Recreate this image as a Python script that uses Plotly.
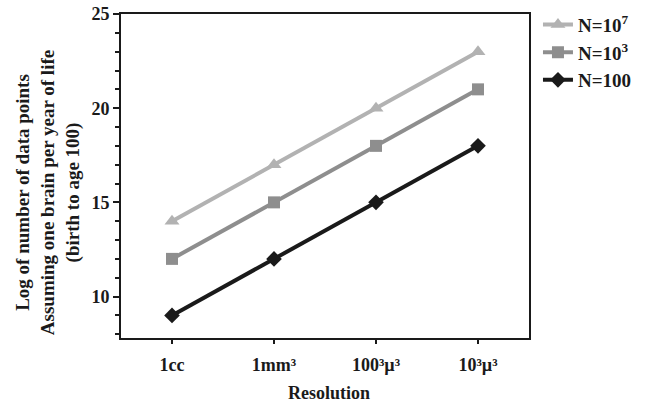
import plotly.graph_objects as go

categories = ["1cc", "1mm³", "100³µ³", "10³µ³"]
n1e7 = [14, 17, 20, 23]
n1e3 = [12, 15, 18, 21]
n100 = [9, 12, 15, 18]

font_family = "Liberation Serif, Times New Roman, serif"
ink = "#1a1a1a"

fig = go.Figure()
fig.add_trace(go.Scatter(x=categories, y=n1e7, mode="lines+markers", name="<b>N=10<sup>7</sup></b>",
                         line=dict(color="#b2b2b2", width=4),
                         marker=dict(symbol="triangle-up", size=13, color="#b2b2b2")))
fig.add_trace(go.Scatter(x=categories, y=n1e3, mode="lines+markers", name="<b>N=10<sup>3</sup></b>",
                         line=dict(color="#8e8e8e", width=4),
                         marker=dict(symbol="square", size=12, color="#8e8e8e")))
fig.add_trace(go.Scatter(x=categories, y=n100, mode="lines+markers", name="<b>N=100</b>",
                         line=dict(color=ink, width=4),
                         marker=dict(symbol="diamond", size=12, color=ink)))

fig.update_layout(
    width=652, height=407,
    margin=dict(l=121, r=123, t=14, b=69, autoexpand=False),
    paper_bgcolor="white", plot_bgcolor="white",
    font=dict(family=font_family, color=ink, size=18),
    showlegend=True,
    legend=dict(x=1.022, y=1.026, xanchor="left", yanchor="top",
                font=dict(family=font_family, size=19, color=ink),
                tracegroupgap=0, itemwidth=30, bgcolor="rgba(0,0,0,0)"),
    xaxis=dict(
        type="category", range=[-0.5, 3.5], automargin=False,
        showline=True, linecolor=ink, linewidth=2, mirror=True,
        ticks="outside", ticklen=4, tickwidth=2, tickcolor=ink,
        showgrid=False, zeroline=False, ticklabeloverflow="allow",
        ticklabelstandoff=5,
        tickvals=categories, ticktext=["<b>" + c + "</b>" for c in categories],
        tickfont=dict(family=font_family, size=18, color=ink),
    ),
    yaxis=dict(
        range=[7.8, 25], automargin=False,
        showline=True, linecolor=ink, linewidth=2, mirror=True,
        ticks="outside", ticklen=6, tickwidth=2, tickcolor=ink,
        tickvals=[10, 15, 20, 25], ticktext=["<b>10</b>", "<b>15</b>", "<b>20</b>", "<b>25</b>"],
        minor=dict(ticks="outside", ticklen=4, tickwidth=2, tickcolor=ink, dtick=1, tick0=0),
        showgrid=False, zeroline=False, ticklabeloverflow="allow",
        tickfont=dict(family=font_family, size=18, color=ink),
    ),
    annotations=[
        dict(text="<b>Log of number of data points<br>Assuming one brain per year of life<br>(birth to age 100)</b>",
             xref="paper", yref="paper", x=-0.181, y=0.4475, xanchor="center", yanchor="middle",
             textangle=-90, showarrow=False,
             font=dict(family=font_family, size=19, color=ink)),
        dict(text="<b>Resolution</b>",
             xref="paper", yref="paper", x=0.51, y=-0.17, xanchor="center", yanchor="middle",
             showarrow=False, font=dict(family=font_family, size=18, color=ink)),
    ],
)

fig.write_html("out.html", post_script="document.body.style.margin='0';",
               config={"displayModeBar": False})
